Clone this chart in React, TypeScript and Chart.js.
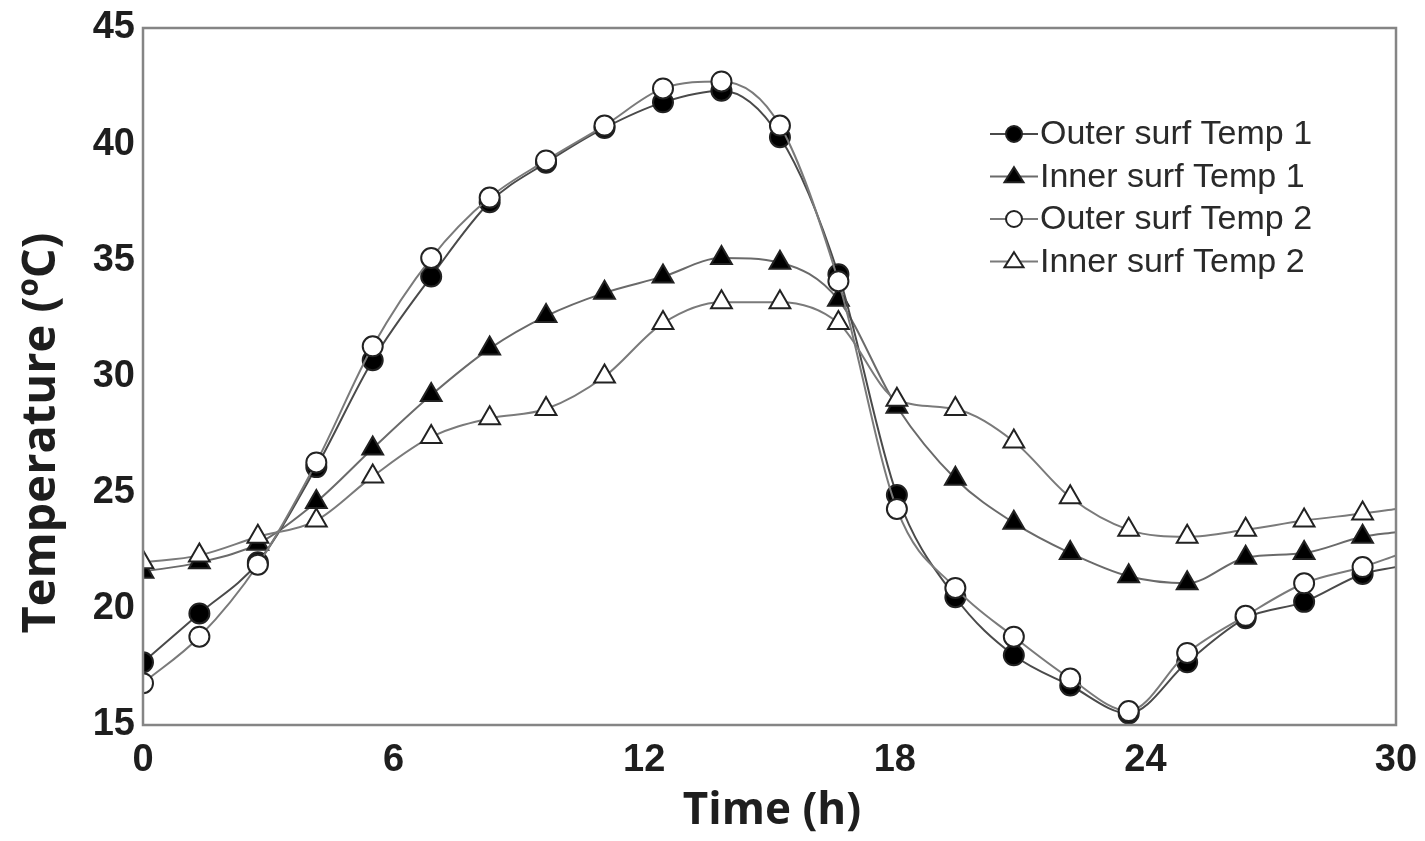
import React, { useEffect, useRef } from "react";
import { Chart, registerables } from "chart.js";

Chart.register(...registerables);

// ---- data ----
const timeH = [0, 1.35, 2.75, 4.15, 5.5, 6.9, 8.3, 9.65, 11.05, 12.45, 13.85, 15.25, 16.65, 18.05, 19.45, 20.85, 22.2, 23.6, 25.0, 26.4, 27.8, 29.2, 30];
const outerSurf1 = [17.7, 19.8, 22.0, 26.1, 30.7, 34.3, 37.5, 39.2, 40.7, 41.8, 42.3, 40.3, 34.4, 24.9, 20.5, 18.0, 16.7, 15.5, 17.7, 19.6, 20.3, 21.5, 21.8];
const innerSurf1 = [21.6, 22.0, 22.8, 24.6, 26.9, 29.2, 31.2, 32.6, 33.6, 34.3, 35.1, 34.9, 33.3, 28.7, 25.6, 23.7, 22.4, 21.4, 21.1, 22.2, 22.4, 23.1, 23.3];
const outerSurf2 = [16.8, 18.8, 21.9, 26.3, 31.3, 35.1, 37.7, 39.3, 40.8, 42.4, 42.7, 40.8, 34.1, 24.3, 20.9, 18.8, 17.0, 15.6, 18.1, 19.7, 21.1, 21.8, 22.3];
const innerSurf2 = [22.0, 22.3, 23.1, 23.8, 25.7, 27.4, 28.2, 28.6, 30.0, 32.3, 33.2, 33.2, 32.3, 29.0, 28.6, 27.2, 24.8, 23.4, 23.1, 23.4, 23.8, 24.1, 24.3];
const seriesLabels = ["Outer surf Temp 1", "Inner surf Temp 1", "Outer surf Temp 2", "Inner surf Temp 2"];
const xTickValues = [0, 6, 12, 18, 24, 30];
const yTickValues = [15, 20, 25, 30, 35, 40, 45];
const xTitle = "Time (h)";
const yTitle = "Temperature (ºC)";

type Style = { shape: "circle" | "triangle"; filled: boolean; line: string; order: number };
const styles: Style[] = [
  { shape: "circle", filled: true, line: "#4a4a4a", order: 2 },
  { shape: "triangle", filled: true, line: "#6a6a6a", order: 3 },
  { shape: "circle", filled: false, line: "#7a7a7a", order: 0 },
  { shape: "triangle", filled: false, line: "#7a7a7a", order: 1 },
];

const toPoints = (ys: number[]) => ys.map((y, i) => ({ x: timeH[i], y }));

function drawMarker(ctx: CanvasRenderingContext2D, shape: string, filled: boolean, x: number, y: number, r: number) {
  ctx.save();
  ctx.beginPath();
  if (shape === "circle") {
    ctx.arc(x, y, r, 0, Math.PI * 2);
  } else {
    const h = r * 1.5;
    ctx.moveTo(x, y - h * 0.62);
    ctx.lineTo(x + r * 0.95, y + h * 0.38);
    ctx.lineTo(x - r * 0.95, y + h * 0.38);
    ctx.closePath();
  }
  ctx.fillStyle = filled ? "#000" : "#fff";
  ctx.fill();
  ctx.lineWidth = 2;
  ctx.strokeStyle = "#222";
  ctx.stroke();
  ctx.restore();
}

const framePlugin = {
  id: "frameAndTexts",
  beforeDatasetsDraw(chart: any) {
    const { ctx, chartArea } = chart;
    ctx.save();
    ctx.beginPath();
    ctx.rect(chartArea.left, chartArea.top, chartArea.right - chartArea.left, chartArea.bottom - chartArea.top);
    ctx.clip();
  },
  afterDatasetsDraw(chart: any) {
    const { ctx, chartArea } = chart;
    ctx.restore();
    ctx.save();
    ctx.strokeStyle = "#858585";
    ctx.lineWidth = 2.5;
    ctx.strokeRect(chartArea.left, chartArea.top, chartArea.right - chartArea.left, chartArea.bottom - chartArea.top);
    ctx.restore();
  },
  afterDraw(chart: any) {
    const { ctx } = chart;
    ctx.save();
    // axis titles
    ctx.fillStyle = "#1e1e1e";
    ctx.font = "bold 44px 'Open Sans'";
    ctx.textAlign = "center";
    ctx.textBaseline = "middle";
    ctx.fillText(xTitle, 772, 811);
    ctx.translate(42, 433);
    ctx.rotate(-Math.PI / 2);
    ctx.font = "bold 47px 'Open Sans'";
    ctx.fillText(yTitle, 0, 0);
    ctx.restore();

    // legend
    ctx.save();
    seriesLabels.forEach((label, i) => {
      const st = styles[i];
      const y = 134 + i * 42.5;
      ctx.strokeStyle = st.line;
      ctx.lineWidth = 2;
      ctx.beginPath();
      ctx.moveTo(990, y);
      ctx.lineTo(1038, y);
      ctx.stroke();
      drawMarker(ctx, st.shape, st.filled, 1014, y, st.shape === "circle" ? 8 : 10);
      ctx.fillStyle = "#2a2a2a";
      ctx.font = "34px 'Liberation Sans'";
      ctx.textAlign = "left";
      ctx.textBaseline = "middle";
      ctx.fillText(label, 1040, y + 1);
    });
    ctx.restore();
  },
};

export default function App() {
  const ref = useRef<HTMLCanvasElement | null>(null);
  useEffect(() => {
    if (!ref.current) return;
    const series = [outerSurf1, innerSurf1, outerSurf2, innerSurf2];
    const last = timeH.length - 1;
    const chart = new Chart(ref.current, {
      type: "line",
      data: {
        datasets: series.map((vals, i) => {
          const st = styles[i];
          return {
            label: seriesLabels[i],
            data: toPoints(vals),
            order: st.order,
            clip: 0,
            borderColor: st.line,
            borderWidth: 2,
            cubicInterpolationMode: "monotone" as const,
            pointStyle: st.shape,
            pointRadius: (c: any) => (c.dataIndex === last ? 0 : st.shape === "circle" ? 10 : 12),
            pointBackgroundColor: st.filled ? "#000" : "#fff",
            pointBorderColor: "#222",
            pointBorderWidth: 2,
            fill: false,
          };
        }),
      },
      options: {
        animation: false,
        responsive: true,
        maintainAspectRatio: false,
        layout: { padding: { top: 28, right: 29, left: 0, bottom: 0 } },
        plugins: { legend: { display: false }, tooltip: { enabled: false } },
        scales: {
          x: {
            type: "linear",
            min: 0,
            max: 30,
            afterBuildTicks: (s: any) => { s.ticks = xTickValues.map((v) => ({ value: v })); },
            afterFit: (s: any) => { s.height = 116; s.paddingLeft = 0; s.paddingRight = 0; },
            grid: { display: false, drawTicks: false },
            border: { display: false },
            ticks: {
              padding: 13,
              color: "#1e1e1e",
              font: { family: "'Liberation Sans'", weight: "bold", size: 38 },
              maxRotation: 0,
            },
          },
          y: {
            type: "linear",
            min: 15,
            max: 45,
            afterBuildTicks: (s: any) => { s.ticks = yTickValues.map((v) => ({ value: v })); },
            afterFit: (s: any) => { s.width = 143; s.paddingTop = 0; s.paddingBottom = 0; },
            grid: { display: false, drawTicks: false },
            border: { display: false },
            ticks: {
              padding: 8,
              color: "#1e1e1e",
              font: { family: "'Liberation Sans'", weight: "bold", size: 38 },
            },
          },
        },
      },
      plugins: [framePlugin],
    } as any);
    return () => chart.destroy();
  }, []);
  return (
    <div style={{ position: "fixed", left: 0, top: 0, width: 1425, height: 841, background: "#fff" }}>
      <canvas ref={ref} />
    </div>
  );
}
